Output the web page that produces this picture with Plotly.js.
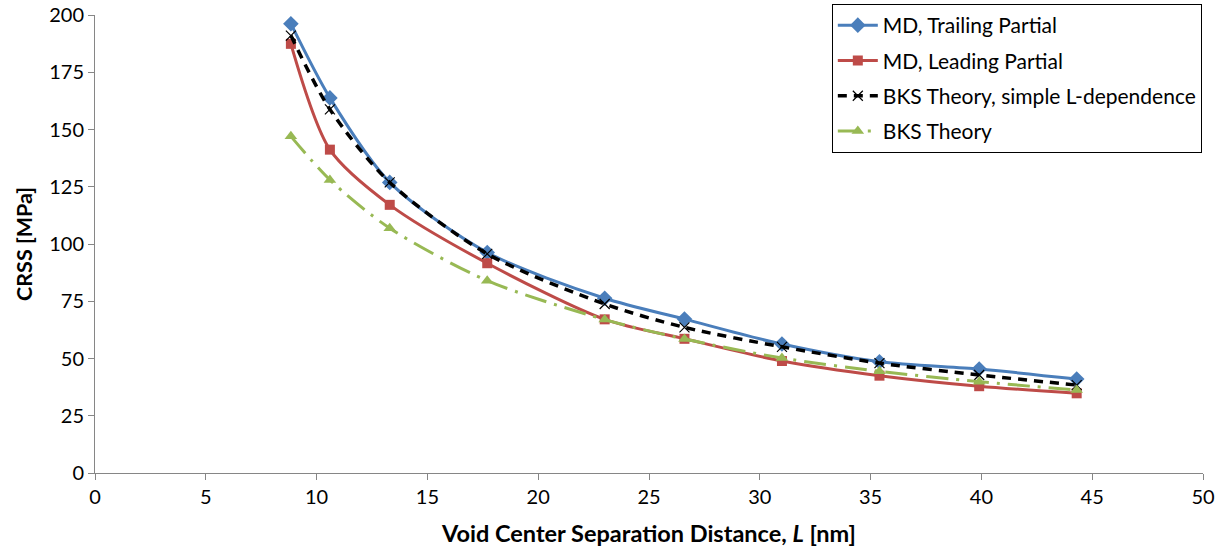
<!DOCTYPE html>
<html>
<head>
<meta charset="utf-8">
<script src="https://cdn.plot.ly/plotly-3.0.1.min.js"></script>
<style>html,body{margin:0;padding:0;background:#fff}#chart{width:1232px;height:550px}</style>
</head>
<body>
<div id="chart"></div>
<script>
const separationL = [8.84, 10.6, 13.3, 17.7, 23.0, 26.6, 31.0, 35.4, 39.9, 44.3];
const mdTrailing = [196.2, 163.8, 126.9, 96.3, 76.3, 67.2, 56.3, 48.6, 45.4, 41.0];
const mdLeading = [187.4, 141.2, 117.1, 91.6, 67.1, 58.6, 48.9, 42.5, 37.9, 34.8];
const bksSimple = [191.0, 158.8, 126.9, 95.7, 73.8, 63.6, 55.1, 48.0, 42.8, 38.4];
const bksTheory = [147.0, 128.0, 106.9, 84.0, 67.0, 58.5, 50.2, 44.4, 39.9, 36.2];
const seriesNames = ["MD, Trailing Partial", "MD, Leading Partial", "BKS Theory, simple L-dependence", "BKS Theory"];

const FONT = "Lato, 'Open Sans', sans-serif";
const traces = [
  {x: separationL, y: mdTrailing, name: seriesNames[0], legendgroup: "a", mode: "lines+markers",
   line: {color: "#4A7EBB", width: 3, shape: "spline", smoothing: 0.8},
   marker: {symbol: "diamond", size: 12, color: "#4A7EBB"}},
  {x: separationL, y: mdLeading, name: seriesNames[1], legendgroup: "b", mode: "lines+markers",
   line: {color: "#BE4B48", width: 3, shape: "spline", smoothing: 0.8},
   marker: {symbol: "square", size: 10, color: "#BE4B48"}},
  {x: separationL, y: bksSimple, name: seriesNames[2], legendgroup: "c", mode: "lines+markers",
   line: {color: "#000000", width: 3.5, dash: "9px,7px", shape: "spline", smoothing: 0.8},
   marker: {symbol: "x-thin", size: 10, color: "#000000", line: {width: 1.2, color: "#000000"}}},
  {x: separationL, y: bksTheory, name: seriesNames[3], legendgroup: "d", mode: "lines+markers",
   line: {color: "#98B954", width: 3, dash: "22px,8px,3px,8px", shape: "spline", smoothing: 0.8},
   marker: {symbol: "triangle-up", size: 11, color: "#98B954"}}
];

const layout = {
  width: 1232, height: 550,
  margin: {l: 95, r: 29, t: 15, b: 77, autoexpand: false},
  paper_bgcolor: "#fff", plot_bgcolor: "#fff",
  font: {family: FONT, size: 20, color: "#000"},
  showlegend: true,
  legend: {x: 0.665, y: 1.024, xanchor: "left", yanchor: "top",
    bordercolor: "#000", borderwidth: 1, bgcolor: "#fff",
    font: {family: FONT, size: 21, color: "#000"},
    traceorder: "grouped", tracegroupgap: 5, itemwidth: 40},
  xaxis: {range: [0, 50], tickvals: [0,5,10,15,20,25,30,35,40,45,50],
    showgrid: false, zeroline: false, showline: true, linecolor: "#868686", linewidth: 1,
    ticks: "outside", ticklen: 6, tickcolor: "#868686",
    tickfont: {family: FONT, size: 20, color: "#000"},
    title: {text: "Void Center Separation Distance, <i>L</i> [nm]", standoff: 18,
      font: {family: FONT, size: 23.5, color: "#000", weight: "bold"}}},
  yaxis: {range: [0, 200], tickvals: [0,25,50,75,100,125,150,175,200],
    showgrid: false, zeroline: false, showline: true, linecolor: "#868686", linewidth: 1,
    ticks: "outside", ticklen: 6, tickcolor: "#868686",
    tickfont: {family: FONT, size: 20, color: "#000"},
    title: {text: "CRSS [MPa]", standoff: 10,
      font: {family: FONT, size: 21.5, color: "#000", weight: "bold"}}}
};

Plotly.newPlot("chart", traces, layout, {displayModeBar: false});
</script>
</body>
</html>
